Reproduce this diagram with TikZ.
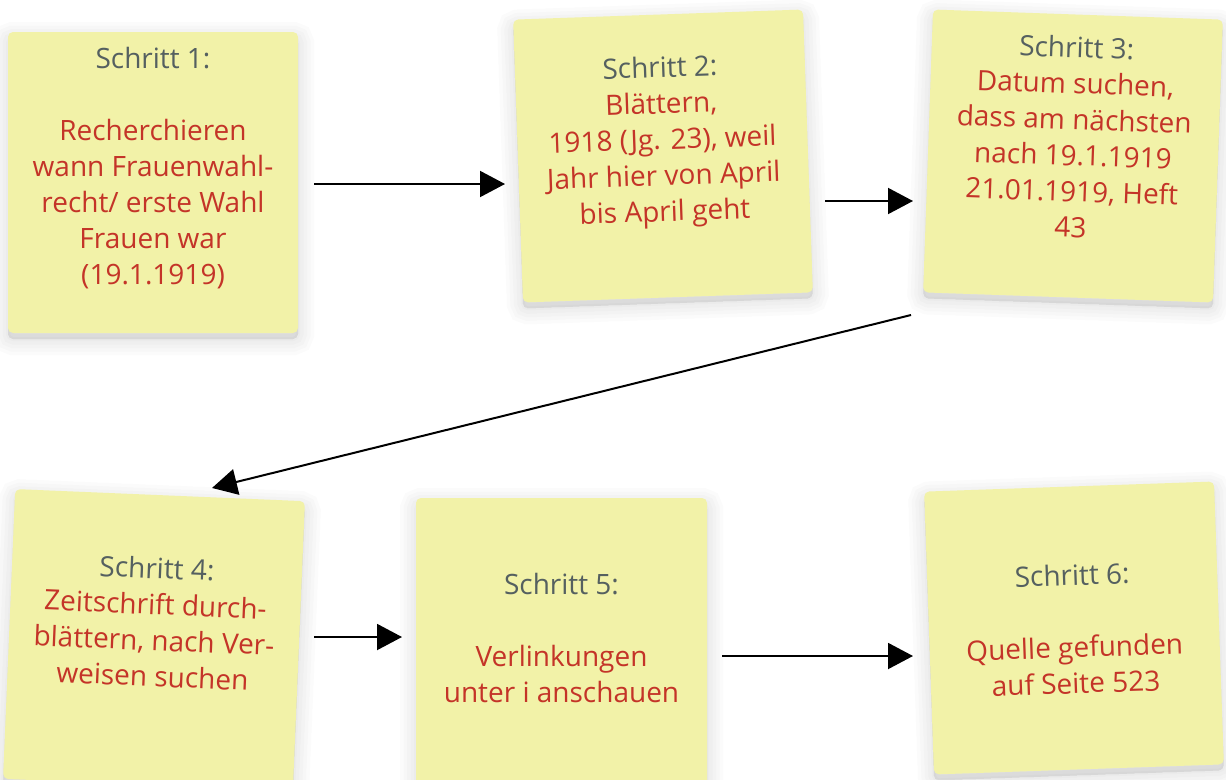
\documentclass[tikz,border=0pt]{standalone}
\usepackage{fontspec}
\setmainfont{Open Sans}
\usetikzlibrary{arrows.meta}
\definecolor{notefill}{RGB}{242,242,168}
\definecolor{stepgray}{RGB}{85,96,96}
\definecolor{stepred}{RGB}{196,52,40}
\tikzset{
  shadowlayer/.style={preaction={draw=black, fill=black, draw opacity=0.014, fill opacity=0.014, line width=#1, transform canvas={yshift=-6pt}}},
  note/.style={rectangle, rounded corners=5pt, fill=notefill, inner sep=0pt, transform shape,
    shadowlayer=32pt, shadowlayer=25pt, shadowlayer=18pt, shadowlayer=11pt, shadowlayer=4pt},
  txt/.style={align=center, inner sep=0pt, transform shape, font=\fontsize{28}{36}\selectfont, text=stepred},
  arr/.style={line width=2pt, -{Triangle[length=25pt,width=26pt]}}
}
\newcommand{\hd}[1]{\textcolor{stepgray}{#1}}
\begin{document}
\begin{tikzpicture}[x=1pt,y=-1pt]
\useasboundingbox[fill=white] (0,0) rectangle (1226,779);
% notes
\node[note, minimum width=290pt, minimum height=301pt] (n1) at (153,182.5) {};
\node[txt, anchor=north] (t1) at (153,46.7) {\hd{Schritt 1:}\\ \\ Recherchieren\\wann Frauenwahl-\\recht/ erste Wahl\\Frauen war\\(19.1.1919)};

\begin{scope}[shift={(663,156)}, rotate=2]
\node[note, minimum width=290pt, minimum height=283pt] (n2) at (0,0) {};
\node[txt, anchor=north] (t2) at (0,-100) {\hd{Schritt 2:}\\Blättern,\\1918 (Jg. 23), weil\\Jahr hier von April\\bis April geht};
\end{scope}

\begin{scope}[shift={(1073,156)}, rotate=-2]
\node[note, minimum width=290pt, minimum height=283pt] (n3) at (0,0) {};
\node[txt, anchor=north] (t3) at (0,-120) {\hd{Schritt 3:}\\Datum suchen,\\dass am nächsten\\nach 19.1.1919\\21.01.1919, Heft\\43};
\end{scope}

\begin{scope}[shift={(154,640)}, rotate=-2.4]
\node[note, minimum width=290pt, minimum height=290pt] (n4) at (0,0) {};
\node[txt, anchor=north] (t4) at (0,-83) {\hd{Schritt 4:}\\Zeitschrift durch-\\blättern, nach Ver-\\weisen suchen};
\end{scope}

\node[note, minimum width=291pt, minimum height=292pt] (n5) at (561.5,644) {};
\node[txt, anchor=north] (t5) at (561.5,572.7) {\hd{Schritt 5:}\\ \\Verlinkungen\\unter i anschauen};

\begin{scope}[shift={(1074,628)}, rotate=2]
\node[note, minimum width=290pt, minimum height=283pt] (n6) at (0,0) {};
\node[txt, anchor=north] (t6) at (0,-64) {\hd{Schritt 6:}\\ \\Quelle gefunden\\auf Seite 523};
\end{scope}

% connector endpoints
\coordinate (a1s) at (314,184); \coordinate (a1e) at (505,184);
\coordinate (a2s) at (825,201); \coordinate (a2e) at (913,201);
\coordinate (a3s) at (911,315); \coordinate (a3e) at (212,488);
\coordinate (a4s) at (314,637); \coordinate (a4e) at (402,637);
\coordinate (a5s) at (722,656); \coordinate (a5e) at (913,656);
\draw[arr] (a1s) -- (a1e);
\draw[arr] (a2s) -- (a2e);
\draw[arr] (a3s) -- (a3e);
\draw[arr] (a4s) -- (a4e);
\draw[arr] (a5s) -- (a5e);
\end{tikzpicture}
\end{document}
